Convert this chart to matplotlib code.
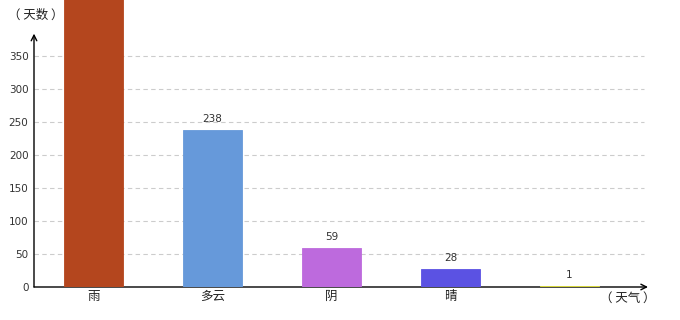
import matplotlib
matplotlib.use('Agg')
import matplotlib.pyplot as plt

plt.rcParams['font.family'] = ['DejaVu Sans', 'Noto Sans CJK SC']

weather = ['雨', '多云', '阴', '晴', '']
days = [520, 238, 59, 28, 1]
colors = ['#B4461E', '#6699DA', '#BD6ADD', '#5B52E3', '#E2E23A']
yticks = [0, 50, 100, 150, 200, 250, 300, 350]
ymax = 435

cjk = ['Noto Sans CJK SC', 'DejaVu Sans']

fig = plt.figure(figsize=(6.8, 3.2), dpi=100)
ax = fig.add_axes([34 / 680, 33 / 320, 614 / 680, 287 / 320])

x = list(range(len(weather)))
ax.bar(x, days, width=0.49, color=colors, edgecolor=colors, lw=0.6, zorder=4)
for xi, v, lab in zip(x, days, weather):
    if v + 9 < ymax:
        ax.text(xi, v + 9, str(v), ha='center', va='bottom', fontsize=7.5, color='#333333')
    ax.text(xi, -5, lab, ha='center', va='top', fontsize=9, color='#222222',
            family=cjk, clip_on=False)

ax.set_xlim(-0.5, 4.66)
ax.set_ylim(0, ymax)
ax.set_yticks(yticks)
ax.set_yticklabels([str(t) for t in yticks], fontsize=7.5, color='#333333')
ax.tick_params(axis='y', length=0, pad=4)
ax.set_xticks([])
for s in ax.spines.values():
    s.set_visible(False)
for t in yticks[1:]:
    ax.plot([-0.5, 4.63], [t, t], color='#CCCCCC', lw=0.8, ls=(0, (4, 3)), zorder=1)

ax.annotate('', xy=(-0.5, 384), xytext=(-0.5, 0),
            arrowprops=dict(arrowstyle='->', color='black', lw=1, shrinkA=0, shrinkB=0),
            annotation_clip=False, zorder=3)
ax.annotate('', xy=(4.66, 0), xytext=(-0.5, 0),
            arrowprops=dict(arrowstyle='->', color='black', lw=1, shrinkA=0, shrinkB=0),
            annotation_clip=False, zorder=3)

fig.text(8 / 680, 1 - 15 / 320, '（ 天数 ）', ha='left', va='center', fontsize=9,
         color='#222222', family=cjk)
fig.text(600 / 680, 1 - 298 / 320, '（ 天气 ）', ha='left', va='center', fontsize=9,
         color='#222222', family=cjk)

fig.savefig('out.png', dpi=100)
